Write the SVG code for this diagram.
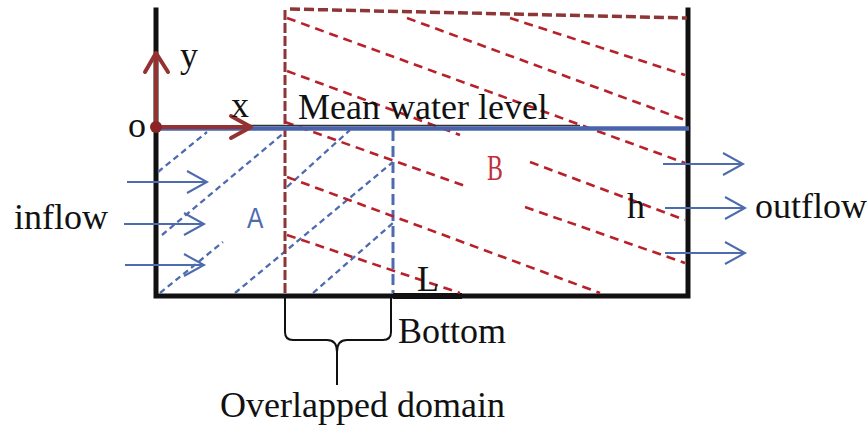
<svg xmlns="http://www.w3.org/2000/svg" width="867" height="426" viewBox="0 0 867 426">
<defs>
<style>
.t{font-family:"Liberation Serif","Times New Roman",serif;font-size:36px;fill:#111}
.wall{stroke:#111;stroke-width:5;fill:none;stroke-linecap:square}
.rd{stroke:#b8202a;stroke-width:2.6;stroke-dasharray:9 6;fill:none}
.bd{stroke:#4f6bb0;stroke-width:2.3;stroke-dasharray:6 4;fill:none}
.br{stroke:#8e3535;fill:none}
.flow{stroke:#4f6bb0;stroke-width:2;fill:none}
.ax{stroke:#943232;stroke-width:4;fill:none;stroke-linecap:round;stroke-linejoin:round}
</style>
</defs>
<rect width="867" height="426" fill="#fff"/>

<g id="tank">
<path class="wall" d="M156,10 V296 H688 V10"/>
<line x1="393" y1="296" x2="462" y2="296" stroke="#111" stroke-width="6"/>
</g>

<g id="regionA">
<path class="bd" d="M158,172 L207,132 M162,235 L285,132 M160,293 L223,242 M287,187 L350,130 M235,293 L393,162 M313,293 L393,223"/>
<line x1="393" y1="130" x2="393" y2="293" stroke="#4f6bb0" stroke-width="3" stroke-dasharray="11 5"/>
<text transform="translate(247,228) scale(0.82,1)" font-family="'Liberation Sans',Arial,sans-serif" font-size="30" fill="#4f6bb0">A</text>
</g>

<g id="regionB">
<path class="br" stroke-width="3.5" stroke-dasharray="10 4" d="M290,9 L687,18"/>
<path class="br" stroke-width="3" stroke-dasharray="10 3" d="M285,10 V296"/>
<path class="rd" d="M407,18 L685,120 M510,18 L685,75 M287,18 L685,163 M287,71 L460,135 M530,162 L685,220 M285,122 L465,186 M525,207 L685,263 M287,177 L600,293 M287,235 L460,293"/>
<text transform="translate(487,180) scale(0.68,1)" font-family="'Liberation Serif',serif" font-size="35" fill="#c0303a">B</text>
</g>

<g id="water">
<line x1="245" y1="125.6" x2="580" y2="125.6" stroke="#333" stroke-width="1.5"/>
<line x1="156" y1="128.5" x2="689" y2="128.5" stroke="#4a64ac" stroke-width="4.5"/>
<text class="t" x="298" y="119">Mean water level</text>
</g>

<g id="axes">
<path class="ax" d="M156,127 H250 M231,116 L251,127 L231,138"/>
<path class="ax" d="M156,127 V53 M145,72 L156,53 L168,72"/>
<circle cx="156" cy="127" r="6" fill="#8b2525"/>
<text class="t" x="128" y="137">o</text>
<text class="t" x="180" y="67">y</text>
<text class="t" x="231" y="117">x</text>
</g>

<g id="connectors">
<path class="flow" d="M127,182 H207 M187,171 L207,182 L187,193"/>
<path class="flow" d="M124,224 H204 M184,213 L204,224 L184,235"/>
<path class="flow" d="M125,265 H204 M184,254 L204,265 L184,276"/>
<path class="flow" d="M663,164 H743 M723,153 L743,164 L723,175"/>
<path class="flow" d="M665,208 H745 M725,197 L745,208 L725,219"/>
<path class="flow" d="M665,253 H745 M725,242 L745,253 L725,264"/>
</g>

<g id="labels">
<text class="t" x="14" y="229">inflow</text>
<text class="t" x="755" y="218">outflow</text>
<text class="t" x="627" y="218" font-size="32">h</text>
<text class="t" x="417" y="291" font-size="30">L</text>
<text class="t" x="398" y="343">Bottom</text>
<text class="t" x="220" y="417">Overlapped domain</text>
</g>

<g id="brace">
<path d="M285,297 V332 Q285,340 293,340 H327 Q337,340 337,352 V385 M391,297 V332 Q391,340 383,340 H347 Q337,340 337,352" stroke="#111" stroke-width="2" fill="none"/>
</g>
</svg>
